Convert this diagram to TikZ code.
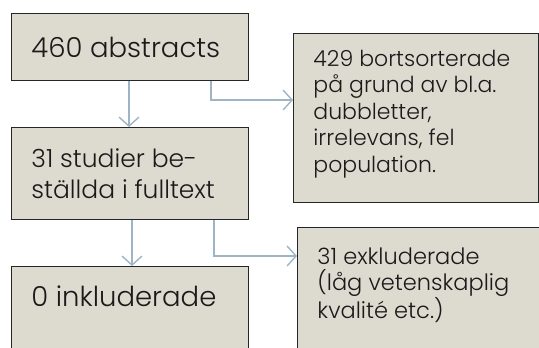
\documentclass[tikz,border=0pt]{standalone}
\usepackage{fontspec}
\setmainfont{Poppins Light}
\usetikzlibrary{arrows.meta}
\definecolor{boxfill}{HTML}{DDDAD0}
\definecolor{boxline}{HTML}{262626}
\definecolor{connc}{HTML}{9DB5C4}
\definecolor{txt}{HTML}{1A1A1A}
\newcommand\boxtxt[5]{\parbox[b][#2][#3]{#1}{\raggedright\leftskip=#4\relax #5}}
\tikzset{
  box/.style={draw=boxline, line width=0.9bp, fill=boxfill, inner sep=0pt, anchor=north west, text=txt},
  conn/.style={draw=connc, line width=1.4bp, -{Straight Barb[length=9bp,width=20bp,line width=1.4bp]}},
}
\begin{document}
\begin{tikzpicture}[x=1bp,y=1bp]
\useasboundingbox (0,0) rectangle (539,-347);
\clip (0,0) rectangle (539,-347);
\node[box] (a) at (11,-13) {\boxtxt{237bp}{67bp}{c}{20bp}{\fontsize{27.5bp}{32bp}\selectfont 460 abstracts}};
\node[box] (b) at (11,-127) {\boxtxt{237bp}{92bp}{c}{20bp}{\fontsize{25bp}{31bp}\selectfont 31 studier be-\\ställda i fulltext}};
\node[box] (c) at (11,-266) {\boxtxt{237bp}{100bp}{t}{20bp}{\vspace*{19bp}\fontsize{27.5bp}{32bp}\selectfont 0 inkluderade}};
\node[box] (d) at (293,-33) {\boxtxt{245bp}{169bp}{c}{20bp}{\fontsize{22bp}{26.5bp}\selectfont 429 bortsorterade\\på grund av bl.a.\\dubbletter,\\irrelevans, fel\\population.\par\vspace*{8bp}}};
\node[box] (e) at (297,-227) {\boxtxt{260bp}{140bp}{t}{20bp}{\vspace*{20bp}\fontsize{22.5bp}{26.5bp}\selectfont 31 exkluderade\\(låg vetenskaplig\\kvalité etc.)}};
\draw[conn] ([xshift=118bp]a.south west) -- ([xshift=118bp]a.south west |- b.north);
\draw[conn] ([xshift=200bp]a.south west) |- ([yshift=-67bp]d.north west);
\draw[conn] ([xshift=121bp]b.south west) -- ([xshift=121bp]b.south west |- c.north);
\draw[conn] ([xshift=203bp]b.south west) |- ([yshift=-29bp]e.north west);
\end{tikzpicture}
\end{document}
